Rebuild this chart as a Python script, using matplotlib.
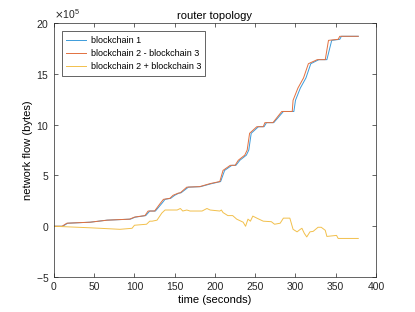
import matplotlib
matplotlib.use("Agg")
import matplotlib.pyplot as plt
from matplotlib.ticker import ScalarFormatter

# time (s) / network flow (x1e5 bytes)
t_diff = [0, 10, 16, 45, 66, 94, 100, 113, 117, 125, 132, 136, 144, 148, 154, 157,
          165, 181, 194, 206, 210, 219, 225, 229, 237, 240, 243, 252, 260, 262, 272,
          283, 296, 297, 303, 310, 316, 327, 337, 341, 353, 355, 378]
y_diff = [0, 0, 0.3, 0.4, 0.6, 0.7, 0.9, 1.05, 1.5, 1.5, 2.25, 2.65, 2.75, 3.05, 3.25, 3.3,
          3.85, 3.9, 4.2, 4.4, 5.5, 6.0, 6.0, 6.5, 7.0, 7.5, 9.15, 9.8, 9.8, 10.2, 10.2,
          11.3, 11.3, 12.4, 13.6, 14.6, 16.0, 16.4, 16.4, 18.3, 18.4, 18.7, 18.7]

t_bc1 = [0, 11, 17, 45, 66, 95, 101, 114, 119, 126, 134, 138, 145, 150, 155, 158,
         167, 182, 196, 207, 212, 221, 226, 231, 239, 242, 245, 254, 261, 264, 273,
         285, 298, 300, 306, 313, 319, 329, 339, 345, 355, 357, 378]
y_bc1 = y_diff[:]

t_sum = [0, 45, 82, 97, 100, 115, 119, 122, 128, 134, 138, 153, 157, 160, 165, 169,
         184, 190, 194, 206, 208, 210, 216, 222, 227, 235, 238, 241, 244, 247, 252,
         260, 270, 274, 281, 285, 293, 297, 302, 306, 308, 311, 314, 318, 322, 328,
         332, 337, 339, 351, 353, 378]
y_sum = [0, -0.15, -0.3, -0.2, 0.1, 0.2, 0.5, 0.5, 0.6, 1.3, 1.6, 1.6, 1.75, 1.5, 1.6, 1.5,
         1.5, 1.75, 1.6, 1.5, 1.6, 1.35, 1.05, 1.05, 0.7, 0.4, 0.0, 0.7, 0.5, 1.0, 0.8,
         0.5, 0.45, 0.2, 0.3, 0.8, 0.8, -0.3, -0.55, -0.3, -0.2, -0.7, -1.05, -0.55, -0.5, -0.1,
         -0.1, -0.4, -1.0, -0.9, -1.2, -1.2]

labels = ["blockchain 1", "blockchain 2 - blockchain 3", "blockchain 2 + blockchain 3"]
colors = ["#3C9BDA", "#E2703F", "#F2C04C"]

plt.rcParams["font.family"] = ["Liberation Sans", "DejaVu Sans"]
plt.rcParams["font.size"] = 7.5

fig = plt.figure(figsize=(4.15, 3.12), dpi=100)
ax = fig.add_axes([0.13, 0.112, 0.776, 0.814])

scale = 1e5
ax.plot(t_bc1, [v * scale for v in y_bc1], color=colors[0], lw=0.7, label=labels[0])
ax.plot(t_diff, [v * scale for v in y_diff], color=colors[1], lw=0.7, label=labels[1])
ax.plot(t_sum, [v * scale for v in y_sum], color=colors[2], lw=0.7, label=labels[2])

ax.set_xlim(0, 400)
ax.set_ylim(-5e5, 20e5)
ax.set_xticks(range(0, 401, 50))
ax.set_yticks([v * scale for v in [-5, 0, 5, 10, 15, 20]])
fmt = ScalarFormatter(useMathText=True)
fmt.set_powerlimits((5, 5))
ax.yaxis.set_major_formatter(fmt)

ax.tick_params(direction="in", top=True, right=True, length=3, width=0.5,
               colors="#262626", labelsize=7.5)
for s in ax.spines.values():
    s.set_linewidth(0.5)
    s.set_edgecolor("#262626")

ax.set_title("router topology", fontsize=8, color="#000000", pad=3)
ax.set_xlabel("time (seconds)", fontsize=8, labelpad=2)
ax.set_ylabel("network flow (bytes)", fontsize=8, labelpad=2)

leg = ax.legend(loc="upper left", fancybox=False, edgecolor="#262626", framealpha=1,
                fontsize=6.5, handlelength=2.2, handletextpad=0.5, borderpad=0.5,
                labelspacing=0.45, bbox_to_anchor=(0.01, 0.985))
leg.get_frame().set_linewidth(0.5)

fig.savefig("out.png", dpi=100)
